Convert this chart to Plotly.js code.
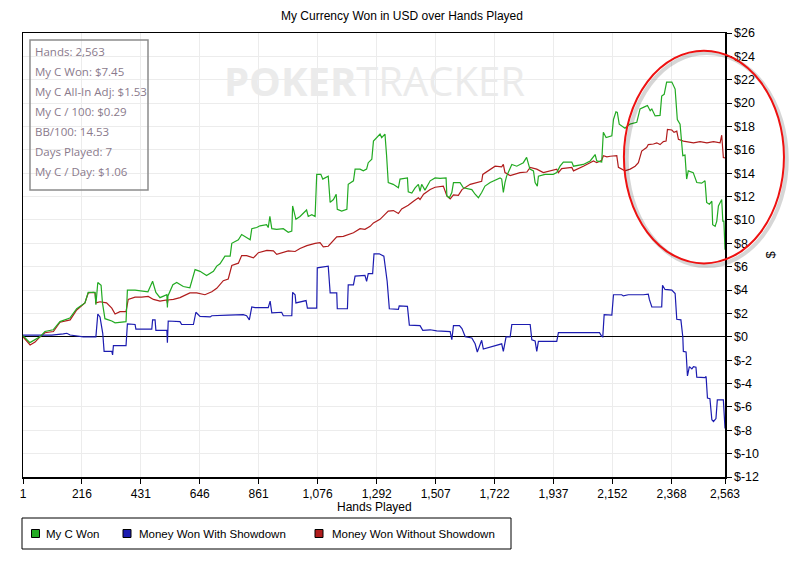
<!DOCTYPE html>
<html>
<head>
<meta charset="utf-8">
<script src="https://cdn.plot.ly/plotly-3.0.1.min.js"></script>
<style>html,body{margin:0;padding:0;background:#fff;}#chart{width:796px;height:563px;}</style>
</head>
<body>
<div id="chart"></div>
<script>
// ---- data ----
const wonHands = [1,26,63,81,111,136,172,197,227,239,264,267,274,286,291,300,325,337,377,382,410,434,457,474,486,501,526,528,530,548,562,586,610,629,647,671,696,708,720,738,757,763,787,799,811,830,836,854,866,890,896,902,909,927,951,969,982,985,997,1012,1036,1042,1055,1067,1073,1088,1095,1115,1122,1134,1144,1148,1164,1183,1188,1207,1213,1231,1243,1255,1261,1274,1280,1297,1304,1310,1322,1328,1334,1352,1371,1377,1395,1404,1407,1420,1432,1444,1450,1456,1468,1487,1505,1523,1545,1548,1557,1566,1572,1596,1608,1639,1651,1663,1675,1687,1706,1742,1748,1754,1760,1766,1785,1803,1827,1839,1851,1864,1870,1878,1882,1906,1936,1949,1961,1973,2004,2010,2046,2071,2089,2095,2113,2119,2129,2150,2156,2165,2170,2177,2198,2216,2241,2253,2271,2280,2290,2296,2308,2326,2332,2341,2350,2369,2381,2389,2399,2409,2417,2423,2429,2447,2460,2478,2490,2496,2506,2515,2518,2527,2533,2539,2551,2555,2559,2563];
const wonValues = [0.1,-0.5,0,0.45,0.6,1.3,1.6,2.4,2.9,3.8,3.8,2.75,4.65,4.4,2.9,1.55,1.35,1.2,1.3,4.0,4.0,3.9,3.85,4.75,3.8,3.35,3.6,2.5,3.5,4.45,4.65,4.3,4.2,5.75,5.6,5.25,5.6,6.05,6.25,6.9,6.9,8.0,8.3,8.75,8.6,8.3,9.25,9.35,9.5,9.6,9.35,10.3,9.25,9.2,9.25,8.95,9.05,11.2,10.05,10.3,10.85,10.3,10.45,10.3,13.9,13.9,13.5,13.75,11.5,11.75,12.2,10.9,10.75,10.9,13.05,13.35,14.35,14.35,14.2,14.35,14.9,15.2,16.75,17.15,17.35,17.05,17.35,15.5,13.2,13.05,12.75,13.5,13.6,13.6,12.4,12.3,12.75,13.05,12.45,13.05,12.55,13.35,13.6,13.55,13.6,12.05,11.9,12.35,13.2,13.2,12.75,12.6,12.2,11.9,12.35,12.9,13.2,13.6,13.5,12.35,13.2,13.75,14.75,14.6,14.9,15.35,14.35,14.2,13.2,12.9,13.75,13.9,13.9,14.05,14.6,14.95,14.95,14.6,14.75,15.05,15.6,15.05,14.95,17.5,17.05,17.2,18.6,19.25,19.2,18.2,17.85,18.2,18.35,19.5,19.7,19.8,19.35,19.5,18.9,18.95,20.6,20.75,21.8,21.8,21.2,18.6,18.2,15.5,15.55,13.5,14.2,14.05,13.2,13.15,13.35,11.5,11.35,11.6,9.6,9.45,9.9,11.2,11.75,9.9,9.9,7.45];

const sdHands = [1,39,88,106,148,161,173,203,221,267,274,282,292,297,325,328,331,377,382,410,413,471,474,483,486,526,528,531,574,580,623,632,647,684,690,750,805,817,827,836,848,896,903,909,945,951,982,985,994,997,1034,1039,1073,1075,1115,1122,1146,1148,1185,1188,1207,1213,1249,1255,1261,1277,1282,1301,1318,1330,1338,1371,1374,1404,1411,1450,1460,1487,1511,1560,1566,1572,1594,1603,1615,1639,1651,1659,1675,1681,1698,1730,1748,1754,1764,1779,1785,1852,1858,1870,1876,1882,1949,1955,2105,2113,2117,2122,2150,2156,2186,2192,2210,2265,2283,2287,2296,2332,2335,2344,2369,2381,2387,2402,2409,2411,2421,2426,2433,2442,2448,2457,2460,2490,2494,2499,2508,2515,2521,2530,2535,2557,2561,2563];
const sdValues = [0.15,0.15,0.1,0.15,0.25,0.3,0.15,0.05,0,0,1.95,1.7,0.3,-1.25,-1.25,-1.55,-0.75,-0.75,1.1,1.05,0.65,0.65,1.45,1.45,0.55,0.55,-0.5,1.35,1.3,1.05,1.05,2.1,1.75,1.7,1.8,1.85,1.9,1.8,1.45,2.55,2.5,2.5,3.05,2.05,2.1,1.8,1.8,3.8,3.6,2.9,3.1,2.45,2.45,5.9,6.05,3.75,3.75,2.4,2.4,4.45,4.45,5.2,5.25,4.75,5.4,5.4,7.1,7.1,6.9,4.75,2.4,2.35,2.65,2.6,1.0,0.95,0.55,0.6,0.5,0.45,-0.25,0.95,0.95,0.7,0,-0.1,-0.6,-1.3,-0.3,-1.05,-0.95,-0.75,-0.6,-1.25,0,0,1.05,1.05,-0.25,-0.35,-1.25,-0.4,-0.4,0.35,0.35,0.05,0,1.9,1.85,3.6,3.6,3.5,3.6,3.6,3.65,3.2,2.55,2.55,4.4,4.05,4.0,3.7,1.5,1.45,0,-1.25,-1.3,-3.35,-2.55,-2.75,-2.55,-2.6,-3.45,-3.5,-3.4,-5.25,-5.3,-7.1,-7.25,-7.0,-5.4,-5.4,-7.85,-7.85];

const nsdHands = [1,27,45,63,81,112,136,173,197,227,239,258,264,267,282,306,325,337,355,377,385,410,434,458,477,501,526,528,530,550,574,610,635,665,690,708,732,750,763,787,799,817,842,860,891,915,927,951,969,994,1012,1037,1067,1085,1097,1115,1134,1146,1170,1188,1207,1231,1249,1268,1280,1304,1322,1334,1353,1371,1383,1407,1426,1444,1450,1463,1487,1505,1535,1548,1560,1572,1590,1603,1633,1663,1675,1679,1706,1724,1748,1754,1760,1779,1815,1840,1852,1876,1900,1931,1949,1955,1967,2004,2010,2046,2083,2095,2113,2119,2132,2144,2168,2174,2198,2217,2235,2247,2259,2277,2283,2302,2314,2326,2338,2348,2353,2369,2377,2387,2393,2411,2448,2472,2497,2521,2545,2551,2555,2557,2563];
const nsdValues = [0,-0.7,-0.45,0,0.35,0.45,1.25,1.45,2.3,2.9,3.75,3.8,3.75,2.9,3.0,2.9,2.45,1.95,2.15,2.15,3.2,3.4,3.4,3.45,3.2,3.05,3.15,2.85,3.15,3.2,3.35,3.75,3.75,3.6,3.85,4.15,4.8,4.95,6.1,6.3,6.95,6.95,6.75,7.2,7.4,7.35,7.05,7.2,7.35,7.3,7.55,7.8,8.0,8.05,7.7,7.75,8.2,8.55,8.6,8.75,8.9,9.25,9.2,9.45,9.75,10.05,10.45,10.75,10.8,10.55,10.95,11.25,11.6,11.9,11.75,12.2,12.6,12.8,12.9,12.05,11.8,12.15,12.1,12.6,13.05,13.25,13.3,13.9,14.35,14.6,14.55,14.75,14.05,13.8,14.05,14.1,14.5,14.35,14.05,14.2,14.35,14.05,14.4,14.5,14.2,14.6,15.05,14.9,15.1,15.5,15.4,15.45,15.5,14.5,14.2,14.35,14.6,14.9,15.9,16.2,16.45,16.5,16.6,16.45,16.7,16.75,17.75,17.7,17.5,17.6,16.9,16.75,16.6,16.7,16.6,16.7,16.6,17.25,16.05,15.35,15.3];

const xTickVals = [1,216,431,646,861,1076,1292,1507,1722,1937,2152,2368,2563];
const xTickText = ["1","216","431","646","861","1,076","1,292","1,507","1,722","1,937","2,152","2,368","2,563"];
const yTickVals = [-12,-10,-8,-6,-4,-2,0,2,4,6,8,10,12,14,16,18,20,22,24,26];
const yTickText = ["$-12","$-10","$-8","$-6","$-4","$-2","$0","$2","$4","$6","$8","$10","$12","$14","$16","$18","$20","$22","$24","$26"];

const seriesNames = ["My C Won","Money Won With Showdown","Money Won Without Showdown"];
const statsLines = ["Hands: 2,563","My C Won: $7.45","My C All-In Adj: $1.53","My C / 100: $0.29","BB/100: 14.53","Days Played: 7","My C / Day: $1.06"];

// ---- styles ----
const colors = ["#22aa22","#1c1cb0","#b01c1c"];
const sans = "Liberation Sans, Arial, sans-serif";

const traces = [
  {x: nsdHands, y: nsdValues, mode:"lines", line:{color:colors[2], width:1.2}, showlegend:false, hoverinfo:"skip"},
  {x: sdHands, y: sdValues, mode:"lines", line:{color:colors[1], width:1.2}, showlegend:false, hoverinfo:"skip"},
  {x: wonHands, y: wonValues, mode:"lines", line:{color:colors[0], width:1.2}, showlegend:false, hoverinfo:"skip"}
];

// plot area in pixels: x 23..725, y 33..477
const PX = px => (px - 23) / 702;
const PY = py => (477 - py) / 444;

const annotations = [
  {xref:"paper", yref:"paper", x:0.5, y:PY(80), xanchor:"center", yanchor:"middle", showarrow:false,
    text:"<b>POKER</b>TRACKER", font:{family:"Open Sans, Roboto, sans-serif", size:40, color:"#ebebeb"}},
  {xref:"paper", yref:"paper", x:0.5, y:PY(507), xanchor:"center", yanchor:"middle", showarrow:false,
    text:"Hands Played", font:{family:sans, size:12, color:"#000"}}
];
statsLines.forEach((t,i)=>{
  annotations.push({xref:"paper", yref:"paper", x:PX(33), y:PY(51 + i*20.1), xanchor:"left", yanchor:"middle",
    showarrow:false, text:t, font:{family:"Open Sans, Noto Sans, sans-serif", size:11.5, color:"#8a7a8c"}});
});
const legendSquareX = [35.5, 127, 319];
const legendTextX = [43.5, 136.5, 329.5];
const shapes = [
  {type:"rect", xref:"paper", yref:"paper", x0:PX(30), x1:PX(148), y0:PY(190), y1:PY(40), line:{color:"#8c8c8c", width:1.5}, fillcolor:"rgba(255,255,255,0)", layer:"above"},
  {type:"rect", xref:"paper", yref:"paper", x0:PX(22), x1:PX(511), y0:PY(549), y1:PY(518), line:{color:"#000", width:1}, layer:"above"},
  {type:"circle", xref:"paper", yref:"paper", x0:0.860, x1:1.088, y0:0.475, y1:0.955, line:{color:"rgba(0,0,0,0.16)", width:4}, layer:"above"},
  {type:"circle", xref:"paper", yref:"paper", x0:0.856, x1:1.084, y0:0.481, y1:0.96, line:{color:"#ee1111", width:2}, layer:"above"}
];
seriesNames.forEach((n,i)=>{
  shapes.push({type:"rect", xref:"paper", yref:"paper", x0:PX(legendSquareX[i]-4), x1:PX(legendSquareX[i]+4),
    y0:PY(537.5), y1:PY(529.5), fillcolor:colors[i], line:{color:"#000", width:1}, layer:"above"});
  annotations.push({xref:"paper", yref:"paper", x:PX(legendTextX[i]), y:PY(533.5), xanchor:"left", yanchor:"middle",
    showarrow:false, text:n, font:{family:sans, size:11.5, color:"#000"}});
});

const layout = {
  width:796, height:563,
  margin:{l:23, r:71, t:33, b:86},
  paper_bgcolor:"#fff", plot_bgcolor:"#fff",
  title:{text:"My Currency Won in USD over Hands Played", x:0.505, xanchor:"center", y:0.972, yanchor:"middle",
    font:{family:sans, size:12, color:"#000"}},
  xaxis:{range:[1,2563], tickvals:xTickVals, ticktext:xTickText, showgrid:true, gridcolor:"#ececec", gridwidth:1,
    zeroline:false, showline:true, linecolor:"#000", linewidth:1.5, mirror:true, ticks:"outside", ticklen:5, tickcolor:"#000",
    tickfont:{family:sans, size:12, color:"#000"}},
  yaxis:{range:[-12,26], side:"right", tickvals:yTickVals, ticktext:yTickText, showgrid:true, gridcolor:"#ececec", gridwidth:1,
    zeroline:true, zerolinecolor:"#000", zerolinewidth:1.2,
    showline:true, linecolor:"#000", linewidth:1.5, mirror:true, ticks:"outside", ticklen:5, tickcolor:"#000",
    tickfont:{family:sans, size:12.5, color:"#000"},
    title:{text:"$", font:{family:sans, size:13, color:"#000"}, standoff:8}},
  showlegend:false,
  annotations: annotations,
  shapes: shapes
};

Plotly.newPlot("chart", traces, layout, {staticPlot:true, displayModeBar:false});
</script>
</body>
</html>
